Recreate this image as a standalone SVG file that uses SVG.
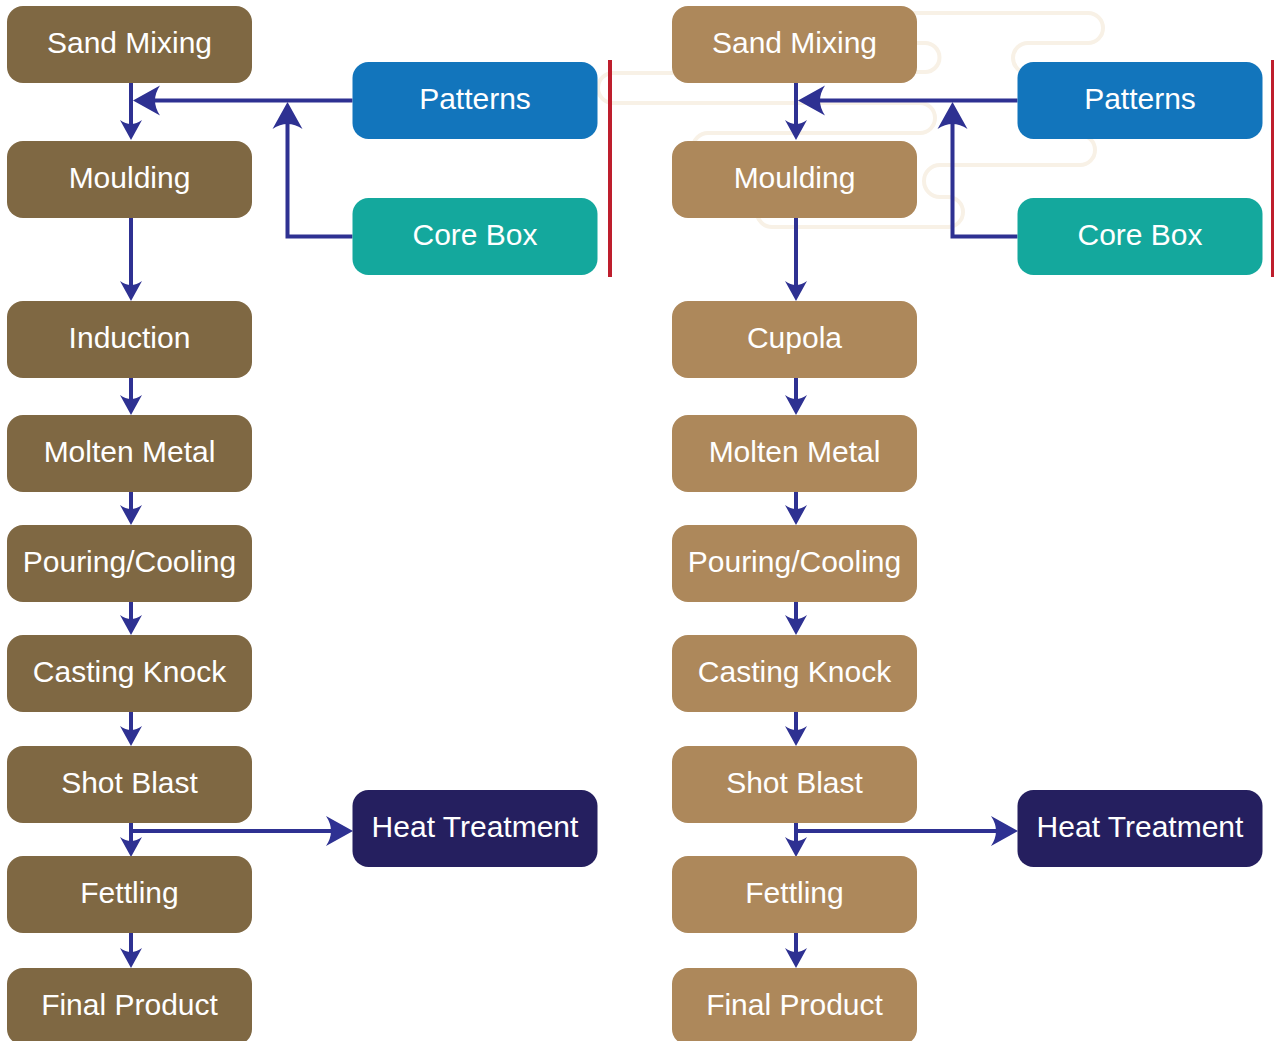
<svg xmlns="http://www.w3.org/2000/svg" width="1274" height="1041" viewBox="0 0 1274 1041">
<style>
.t{font-family:"Liberation Sans",Arial,sans-serif;font-size:30px;fill:#ffffff;text-anchor:middle}
.dk{fill:#7f6843}
.lt{fill:#ad885b}
.pt{fill:#1275bc}
.cb{fill:#14a89d}
.ht{fill:#251f5f}
.c{fill:none;stroke:#2e3192;stroke-width:4}
.cs{marker-end:url(#as)}
.cl{marker-end:url(#al)}
.deco{fill:none;stroke:#f8f1e6;stroke-width:4}
.red{stroke:#be1e2d}
</style>
<defs>
<marker id="as" viewBox="-26 -12 26 24" refX="-6" refY="0" markerWidth="26" markerHeight="24" orient="auto" markerUnits="userSpaceOnUse">
<path d="M0,0 L-20,-11 Q-12,0 -20,11 Z" fill="#2e3192"/>
</marker>
<marker id="al" viewBox="-32 -16 32 32" refX="-6" refY="0" markerWidth="32" markerHeight="32" orient="auto" markerUnits="userSpaceOnUse">
<path d="M0,0 L-27,-15 Q-17,0 -27,15 Z" fill="#2e3192"/>
</marker>
</defs>
<rect width="1274" height="1041" fill="#ffffff"/>
<g id="decoration">
<path class="deco" d="M690,73 L613,73 A15,15 0 0 0 613,103 L920,103 A15,15 0 0 1 920,133 L708,133 A15,15 0 0 0 693,148"/>
<path class="deco" d="M895,13 L1088,13 A15,15 0 0 1 1088,43 L1028,43 A15,15 0 0 0 1028,73 L1040,73"/>
<path class="deco" d="M900,43 L925,43 A14.5,14.5 0 0 1 925,72 L900,72"/>
<path class="deco" d="M1070,130 L1080,135 A15,15 0 0 1 1080,165 L940,165 A16,16 0 0 0 940,197 L948,197 A15,15 0 0 1 948,227 L772,227 A15,15 0 0 1 757,212"/>
</g>
<g id="dividers">
<line class="red" x1="610" y1="60" x2="610" y2="277" stroke-width="4"/>
<line class="red" x1="1272.5" y1="60" x2="1272.5" y2="277" stroke-width="3"/>
</g>
<g id="connectors">
<path class="c cs" d="M131,83 V134"/>
<path class="c cl" d="M352.5,100.5 H139"/>
<path class="c cl" d="M352.5,236.5 H287.5 V108"/>
<path class="c cs" d="M131,218 V295"/>
<path class="c cs" d="M131,378 V409"/>
<path class="c cs" d="M131,492 V519"/>
<path class="c cs" d="M131,602 V629"/>
<path class="c cs" d="M131,712 V740"/>
<path class="c cs" d="M131,823 V851"/>
<path class="c cl" d="M129,831 H347"/>
<path class="c cs" d="M131,933 V962"/>
<path class="c cs" d="M796,83 V134"/>
<path class="c cl" d="M1017.5,100.5 H804"/>
<path class="c cl" d="M1017.5,236.5 H952.5 V108"/>
<path class="c cs" d="M796,218 V295"/>
<path class="c cs" d="M796,378 V409"/>
<path class="c cs" d="M796,492 V519"/>
<path class="c cs" d="M796,602 V629"/>
<path class="c cs" d="M796,712 V740"/>
<path class="c cs" d="M796,823 V851"/>
<path class="c cl" d="M794,831 H1012"/>
<path class="c cs" d="M796,933 V962"/>
</g>
<g id="L-sand"><rect class="dk" x="7" y="6" width="245" height="77" rx="16"/><text class="t" x="129.5" y="53">Sand Mixing</text></g>
<g id="L-moulding"><rect class="dk" x="7" y="141" width="245" height="77" rx="16"/><text class="t" x="129.5" y="188">Moulding</text></g>
<g id="L-induction"><rect class="dk" x="7" y="301" width="245" height="77" rx="16"/><text class="t" x="129.5" y="348">Induction</text></g>
<g id="L-molten"><rect class="dk" x="7" y="415" width="245" height="77" rx="16"/><text class="t" x="129.5" y="462">Molten Metal</text></g>
<g id="L-pouring"><rect class="dk" x="7" y="525" width="245" height="77" rx="16"/><text class="t" x="129.5" y="572">Pouring/Cooling</text></g>
<g id="L-knock"><rect class="dk" x="7" y="635" width="245" height="77" rx="16"/><text class="t" x="129.5" y="682">Casting Knock</text></g>
<g id="L-shot"><rect class="dk" x="7" y="746" width="245" height="77" rx="16"/><text class="t" x="129.5" y="793">Shot Blast</text></g>
<g id="L-fettling"><rect class="dk" x="7" y="856" width="245" height="77" rx="16"/><text class="t" x="129.5" y="903">Fettling</text></g>
<g id="L-final"><rect class="dk" x="7" y="968" width="245" height="77" rx="16"/><text class="t" x="129.5" y="1015">Final Product</text></g>
<g id="L-patterns"><rect class="pt" x="352.5" y="62" width="245" height="77" rx="16"/><text class="t" x="475" y="109">Patterns</text></g>
<g id="L-corebox"><rect class="cb" x="352.5" y="198" width="245" height="77" rx="16"/><text class="t" x="475" y="245">Core Box</text></g>
<g id="L-heat"><rect class="ht" x="352.5" y="790" width="245" height="77" rx="16"/><text class="t" x="475" y="837">Heat Treatment</text></g>
<g id="R-sand"><rect class="lt" x="672" y="6" width="245" height="77" rx="16"/><text class="t" x="794.5" y="53">Sand Mixing</text></g>
<g id="R-moulding"><rect class="lt" x="672" y="141" width="245" height="77" rx="16"/><text class="t" x="794.5" y="188">Moulding</text></g>
<g id="R-cupola"><rect class="lt" x="672" y="301" width="245" height="77" rx="16"/><text class="t" x="794.5" y="348">Cupola</text></g>
<g id="R-molten"><rect class="lt" x="672" y="415" width="245" height="77" rx="16"/><text class="t" x="794.5" y="462">Molten Metal</text></g>
<g id="R-pouring"><rect class="lt" x="672" y="525" width="245" height="77" rx="16"/><text class="t" x="794.5" y="572">Pouring/Cooling</text></g>
<g id="R-knock"><rect class="lt" x="672" y="635" width="245" height="77" rx="16"/><text class="t" x="794.5" y="682">Casting Knock</text></g>
<g id="R-shot"><rect class="lt" x="672" y="746" width="245" height="77" rx="16"/><text class="t" x="794.5" y="793">Shot Blast</text></g>
<g id="R-fettling"><rect class="lt" x="672" y="856" width="245" height="77" rx="16"/><text class="t" x="794.5" y="903">Fettling</text></g>
<g id="R-final"><rect class="lt" x="672" y="968" width="245" height="77" rx="16"/><text class="t" x="794.5" y="1015">Final Product</text></g>
<g id="R-patterns"><rect class="pt" x="1017.5" y="62" width="245" height="77" rx="16"/><text class="t" x="1140" y="109">Patterns</text></g>
<g id="R-corebox"><rect class="cb" x="1017.5" y="198" width="245" height="77" rx="16"/><text class="t" x="1140" y="245">Core Box</text></g>
<g id="R-heat"><rect class="ht" x="1017.5" y="790" width="245" height="77" rx="16"/><text class="t" x="1140" y="837">Heat Treatment</text></g>
</svg>
